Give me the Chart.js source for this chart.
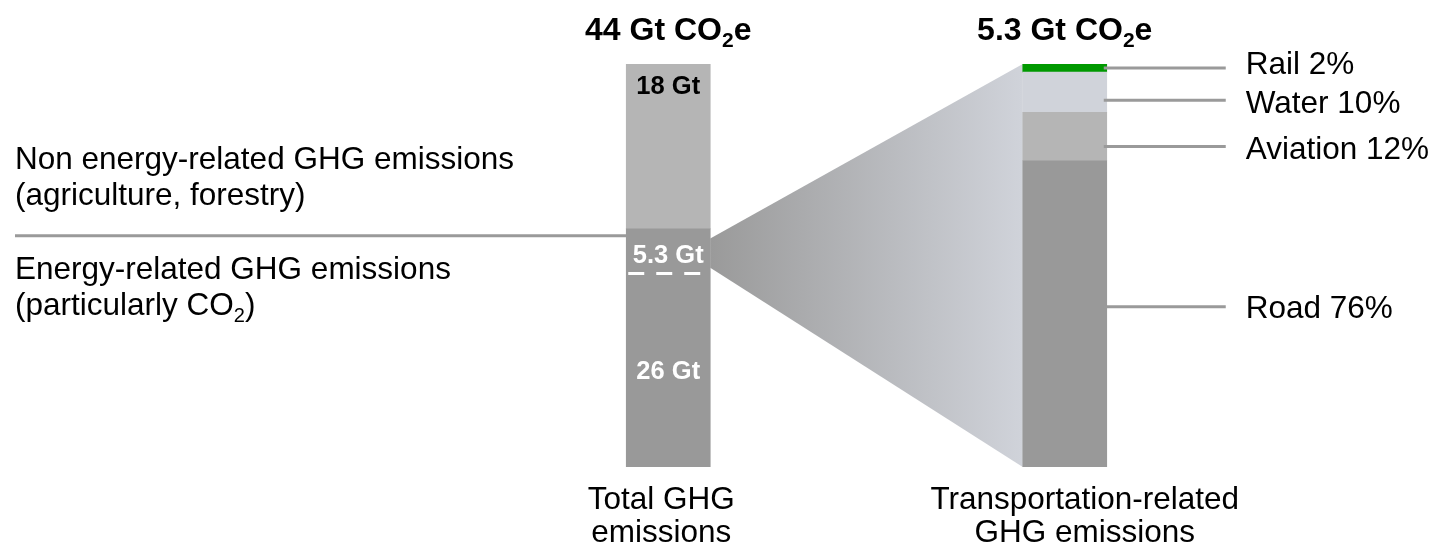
<!DOCTYPE html>
<html>
<head>
<meta charset="utf-8">
<script src="https://cdn.jsdelivr.net/npm/chart.js@4.4.1/dist/chart.umd.min.js"></script>
<style>
  body { margin: 0; background: #fff; }
  #wrap { width: 1433px; height: 551px; position: relative; }
</style>
</head>
<body>
<div id="wrap"><canvas id="ghgChart"></canvas></div>
<script>
  // data
  const categories = [['Total GHG', 'emissions'], ['Transportation-related', 'GHG emissions']];
  const totalsGt = [44, 5.3];
  const energyGt = [26, null];
  const nonEnergyGt = [18, null];
  const transportGt = 5.3;
  const modes = ['Road', 'Aviation', 'Water', 'Rail'];
  const modeShare = [76, 12, 10, 2];
  const modeColors = ['#999999', '#b5b5b5', '#d0d3da', '#009900'];

  const FONT = '"Liberation Sans", Arial, sans-serif';
  const LINE = '#9a9a9a';
  const TXT = 31.5;
  // small pixel nudges so labels sit like in the source slide
  const leaderNudge = [-7, 10, 8, 0];
  const labelNudge = [0, 1, 2, -5];
  const categoryShift = [-7, 20];

  // text with an optional subscript part, parts = [[text, isSub], ...]
  function drawParts(ctx, parts, x, y, align, size, weight, color) {
    const big = weight + ' ' + size + 'px ' + FONT;
    const small = weight + ' ' + Math.round(size * 0.65) + 'px ' + FONT;
    let w = 0;
    parts.forEach(([t, sub]) => { ctx.font = sub ? small : big; w += ctx.measureText(t).width; });
    let cx = align === 'center' ? x - w / 2 : x;
    ctx.fillStyle = color;
    ctx.textAlign = 'left';
    ctx.textBaseline = 'alphabetic';
    parts.forEach(([t, sub]) => {
      ctx.font = sub ? small : big;
      ctx.fillText(t, cx, sub ? y + size * 0.22 : y);
      cx += ctx.measureText(t).width;
    });
  }

  const annotate = {
    id: 'annotate',
    beforeDatasetsDraw(chart) {
      const ctx = chart.ctx, y = chart.scales.y, y2 = chart.scales.y2;
      const lb = chart.getDatasetMeta(0).data[0];
      const rb = chart.getDatasetMeta(2).data[1];
      const x0 = lb.x + lb.width / 2, x1 = rb.x - rb.width / 2;
      const yTop = y.getPixelForValue(energyGt[0]);
      const yBot = y.getPixelForValue(energyGt[0] - transportGt);
      const mid = (yTop + yBot) / 2, half = (yBot - yTop) * 0.3;
      const total = modeShare.reduce((a, b) => a + b, 0);
      const g = ctx.createLinearGradient(x0, 0, x1, 0);
      g.addColorStop(0, '#9a9a9a');
      g.addColorStop(1, '#d0d3da');
      ctx.save();
      ctx.fillStyle = g;
      ctx.beginPath();
      ctx.moveTo(x0, mid - half);
      ctx.lineTo(x1, y2.getPixelForValue(total));
      ctx.lineTo(x1, y2.getPixelForValue(0));
      ctx.lineTo(x0, mid + half);
      ctx.closePath();
      ctx.fill();
      ctx.restore();
    },
    afterDatasetsDraw(chart) {
      const ctx = chart.ctx, y = chart.scales.y, y2 = chart.scales.y2, x = chart.scales.x;
      const lb = chart.getDatasetMeta(0).data[0];
      const rb = chart.getDatasetMeta(2).data[1];
      const lx0 = lb.x - lb.width / 2, lx1 = lb.x + lb.width / 2;
      const rx1 = rb.x + rb.width / 2;
      const yTop = y.getPixelForValue(energyGt[0]);
      const yBot = y.getPixelForValue(energyGt[0] - transportGt);
      const bottom = chart.chartArea.bottom;
      ctx.save();

      // divider line + left side texts
      const yl = yTop + 7;
      ctx.strokeStyle = LINE;
      ctx.lineWidth = 3;
      ctx.beginPath();
      ctx.moveTo(15, yl);
      ctx.lineTo(lx0, yl);
      ctx.stroke();
      drawParts(ctx, [['Non energy-related GHG emissions', false]], 15, yl - 67, 'left', TXT, 'normal', '#000');
      drawParts(ctx, [['(agriculture, forestry)', false]], 15, yl - 31, 'left', TXT, 'normal', '#000');
      drawParts(ctx, [['Energy-related GHG emissions', false]], 15, yl + 43, 'left', TXT, 'normal', '#000');
      drawParts(ctx, [['(particularly CO', false], ['2', true], [')', false]], 15, yl + 79, 'left', TXT, 'normal', '#000');

      // dashed line marking the transport slice
      ctx.strokeStyle = '#fff';
      ctx.lineWidth = 3;
      ctx.setLineDash([16, 12]);
      ctx.beginPath();
      ctx.moveTo(lx0 + 2, yBot - 4);
      ctx.lineTo(lx1, yBot - 4);
      ctx.stroke();
      ctx.setLineDash([]);

      // labels inside left bar
      drawParts(ctx, [[nonEnergyGt[0] + ' Gt', false]], lb.x, chart.chartArea.top + 30, 'center', 25.5, 'bold', '#000');
      drawParts(ctx, [[transportGt + ' Gt', false]], lb.x, (yTop + yBot) / 2 + 10, 'center', 25.5, 'bold', '#fff');
      drawParts(ctx, [[energyGt[0] + ' Gt', false]], lb.x, (yBot + bottom) / 2 + 7, 'center', 25.5, 'bold', '#fff');

      // totals above the bars
      [lb.x, rb.x].forEach((cx, i) => {
        drawParts(ctx, [[totalsGt[i] + ' Gt CO', false], ['2', true], ['e', false]], cx, chart.chartArea.top - 24, 'center', 32, 'bold', '#000');
      });

      // category labels under the bars
      categories.forEach((lines, i) => {
        const cx = x.getPixelForTick(i) + categoryShift[i];
        lines.forEach((t, j) => {
          drawParts(ctx, [[t, false]], cx, bottom + 42 + j * 33, 'center', TXT, 'normal', '#000');
        });
      });

      // leader lines and mode labels
      let base = 0;
      modes.forEach((m, i) => {
        const yc = y2.getPixelForValue(base + modeShare[i] / 2) + leaderNudge[i];
        base += modeShare[i];
        ctx.strokeStyle = LINE;
        ctx.lineWidth = 3;
        ctx.beginPath();
        ctx.moveTo(rx1 - 3, yc);
        ctx.lineTo(rx1 + 119, yc);
        ctx.stroke();
        drawParts(ctx, [[m + ' ' + modeShare[i] + '%', false]], rx1 + 139, yc + 11 + labelNudge[i], 'left', TXT, 'normal', '#000');
      });
      ctx.restore();
    }
  };

  const datasets = [
    { label: 'Energy-related', data: energyGt, backgroundColor: '#999999', yAxisID: 'y' },
    { label: 'Non energy-related', data: nonEnergyGt, backgroundColor: '#b5b5b5', yAxisID: 'y' }
  ];
  modes.forEach((m, i) => {
    datasets.push({
      label: m,
      data: [null, modeShare[i]],
      backgroundColor: modeColors[i],
      yAxisID: 'y2'
    });
  });
  datasets.forEach(d => { d.stack = 'all'; d.barThickness = 84; d.borderWidth = 0; });

  const ghgChart = new Chart(document.getElementById('ghgChart'), {
    type: 'bar',
    data: { labels: categories, datasets: datasets },
    options: {
      responsive: true,
      maintainAspectRatio: false,
      animation: false,
      layout: { padding: { left: 470, right: 170, top: 64, bottom: 84 } },
      plugins: { legend: { display: false }, tooltip: { enabled: false } },
      scales: {
        x: { stacked: true, display: false },
        y: { stacked: true, min: 0, max: 44, display: false },
        y2: { stacked: true, min: 0, max: 100, display: false }
      }
    },
    plugins: [annotate]
  });
</script>
</body>
</html>
